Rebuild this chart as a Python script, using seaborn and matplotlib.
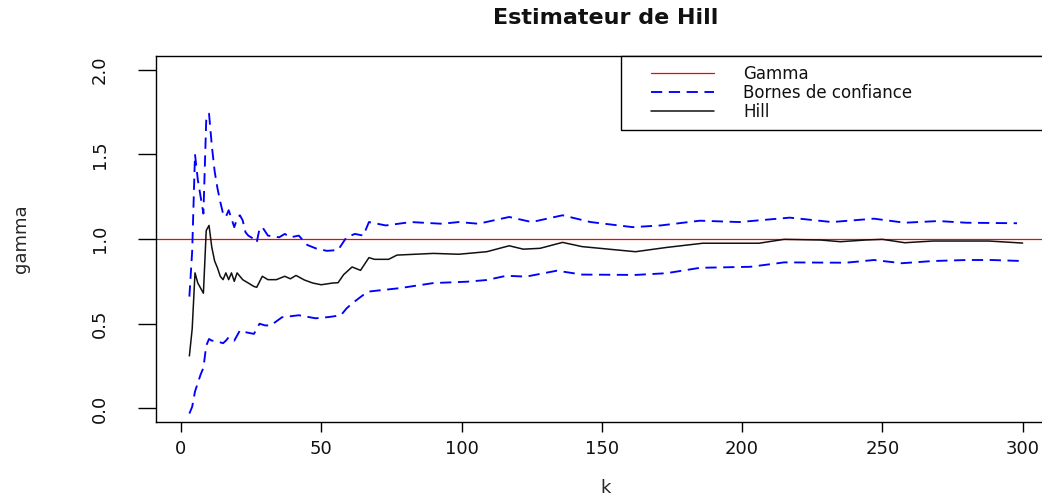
import matplotlib
matplotlib.use("Agg")
import matplotlib.pyplot as plt
from matplotlib.lines import Line2D
from matplotlib.legend_handler import HandlerLine2D
import seaborn as sns
import pandas as pd

# ---- data ----
k_hill = [3, 4, 5, 6, 7, 8, 9, 10, 11, 12, 13, 14, 15, 16, 17, 18, 19, 20, 21, 22,
          24, 26, 27, 29, 31, 34, 37, 39, 41, 44, 47, 50, 54, 56, 58, 61, 64, 67, 69, 74,
          77, 90, 99, 109, 117, 122, 128, 136, 143, 162, 173, 186, 206, 215, 228, 235,
          244, 250, 258, 268, 288, 300]
hill = [0.31, 0.47, 0.80, 0.74, 0.71, 0.68, 1.05, 1.08, 0.95, 0.87, 0.83, 0.78, 0.76,
        0.80, 0.76, 0.80, 0.75, 0.80, 0.78, 0.76,
        0.74, 0.72, 0.715, 0.78, 0.76, 0.76, 0.78, 0.765, 0.785, 0.758,
        0.74, 0.73, 0.74, 0.742, 0.79, 0.835, 0.815, 0.89, 0.88, 0.88,
        0.905, 0.915, 0.91, 0.925, 0.96, 0.94, 0.945, 0.98, 0.955, 0.925,
        0.95, 0.975, 0.975, 0.998, 0.994, 0.984, 0.994, 0.998, 0.978, 0.988,
        0.988, 0.976]

k_upper = [3, 4, 5, 6, 7, 8, 9, 10, 11, 12, 13, 14, 15, 16, 17, 18, 19, 20, 21, 22, 23, 24,
           26, 27, 28, 29, 31, 35, 37, 39, 42, 45, 48, 52, 56, 59, 62, 65, 67, 73, 82, 93,
           99, 106, 117, 125, 136, 146, 161, 171, 185, 199, 217, 232, 247, 258, 270, 280, 298]
upper = [0.66, 0.93, 1.50, 1.35, 1.25, 1.15, 1.70, 1.74, 1.55, 1.40, 1.30, 1.22, 1.15,
         1.13, 1.17, 1.12, 1.07, 1.12, 1.14, 1.11, 1.04, 1.02,
         1.00, 0.98, 1.06, 1.07, 1.02, 1.01, 1.03, 1.01, 1.02, 0.965,
         0.945, 0.93, 0.935, 1.01, 1.03, 1.02, 1.10, 1.08, 1.10, 1.09,
         1.10, 1.09, 1.13, 1.10, 1.14, 1.10, 1.07, 1.08, 1.108, 1.10,
         1.126, 1.10, 1.12, 1.096, 1.106, 1.096, 1.093]

k_lower = [3, 4, 5, 6, 7, 8, 9, 10, 11, 12, 13, 14, 15, 16, 17, 18, 19, 20, 21,
           23, 26, 28, 30, 32, 36, 42, 48, 53, 57, 59, 61, 65, 67, 78, 90, 102, 109, 116,
           123, 134, 143, 162, 173, 185, 203, 215, 237, 247, 257, 268, 280, 289, 300]
lower = [-0.03, 0.01, 0.10, 0.15, 0.20, 0.24, 0.37, 0.41, 0.40, 0.40, 0.395, 0.39,
         0.385, 0.40, 0.42, 0.41, 0.40, 0.43, 0.46,
         0.45, 0.44, 0.50, 0.49, 0.49, 0.538, 0.55, 0.532, 0.54, 0.55,
         0.59, 0.62, 0.67, 0.69, 0.71, 0.74, 0.748, 0.758, 0.783, 0.778,
         0.813, 0.79, 0.788, 0.798, 0.83, 0.836, 0.862, 0.86, 0.876, 0.857,
         0.87, 0.876, 0.876, 0.87]

gamma_true = 1.0
legend_labels = ["Gamma", "Bornes de confiance", "Hill"]
x_ticks = [0, 50, 100, 150, 200, 250, 300]
y_ticks = [0.0, 0.5, 1.0, 1.5, 2.0]
title = "Estimateur de Hill"

# ---- style ----
sns.set_theme(style="ticks")
plt.rcParams["font.family"] = ["DejaVu Sans"]
plt.rcParams["text.color"] = "#111111"

fig = plt.figure(figsize=(10.42, 4.98), dpi=100)
ax = fig.add_axes([156 / 1042, 1 - 422 / 498, 900 / 1042, 366 / 498])

df_hill = pd.DataFrame({"k": k_hill, "v": hill})
df_up = pd.DataFrame({"k": k_upper, "v": upper})
df_lo = pd.DataFrame({"k": k_lower, "v": lower})

h_gamma = ax.axhline(gamma_true, color="#FF0000", lw=0.9, zorder=1)

dash = (0, (6, 3.5))
sns.lineplot(data=df_up, x="k", y="v", ax=ax, color="#0000FF", lw=1.35,
             linestyle=dash, estimator=None, sort=False)
h_up = ax.lines[-1]
sns.lineplot(data=df_lo, x="k", y="v", ax=ax, color="#0000FF", lw=1.35,
             linestyle=dash, estimator=None, sort=False)
sns.lineplot(data=df_hill, x="k", y="v", ax=ax, color="#111111", lw=1.1,
             estimator=None, sort=False)
h_hill = ax.lines[-1]

ax.set_xlim(-8.9, 311.9)
ax.set_ylim(-0.08, 2.08)

ax.set_xticks(x_ticks, labels=[str(t) for t in x_ticks])
ax.set_yticks(y_ticks, labels=[f"{t:.1f}" for t in y_ticks], rotation=90, va="center")

for s in ax.spines.values():
    s.set_visible(True)
    s.set_color("black")
    s.set_linewidth(1.0)

ax.tick_params(axis="x", direction="out", length=7.2, width=1.0, pad=5.5,
               labelsize=13, color="black", labelcolor="#111111")
ax.tick_params(axis="y", direction="out", length=13, width=1.0, pad=21,
               labelsize=13, color="black", labelcolor="#111111")

ax.set_xlabel("k", fontsize=13, va="center")
ax.xaxis.set_label_coords(0.5, (422 - 488) / 366)
ax.set_ylabel("gamma", fontsize=13, va="center")
ax.yaxis.set_label_coords((21 - 156) / 900, 0.5)

ax.set_title(title, fontsize=16, fontweight="bold", pad=23)

fs = 12 * 100 / 72
bpad = 0.55
leg = ax.legend(handles=[h_gamma, h_up, h_hill], labels=legend_labels,
                loc="upper left", bbox_to_anchor=((621 - 156) / 900, 0.0, 1 - (621 - 156) / 900, 1.0),
                mode="expand", borderaxespad=0, fancybox=False, framealpha=1,
                edgecolor="black", fontsize=12, borderpad=bpad, labelspacing=0.06,
                handlelength=(30 - bpad * fs + 63) / fs, handletextpad=29 / fs,
                handler_map={Line2D: HandlerLine2D(xpad=(30 - bpad * fs) / fs)})
leg.get_frame().set_linewidth(1.0)

fig.savefig("out.png", dpi=100)
